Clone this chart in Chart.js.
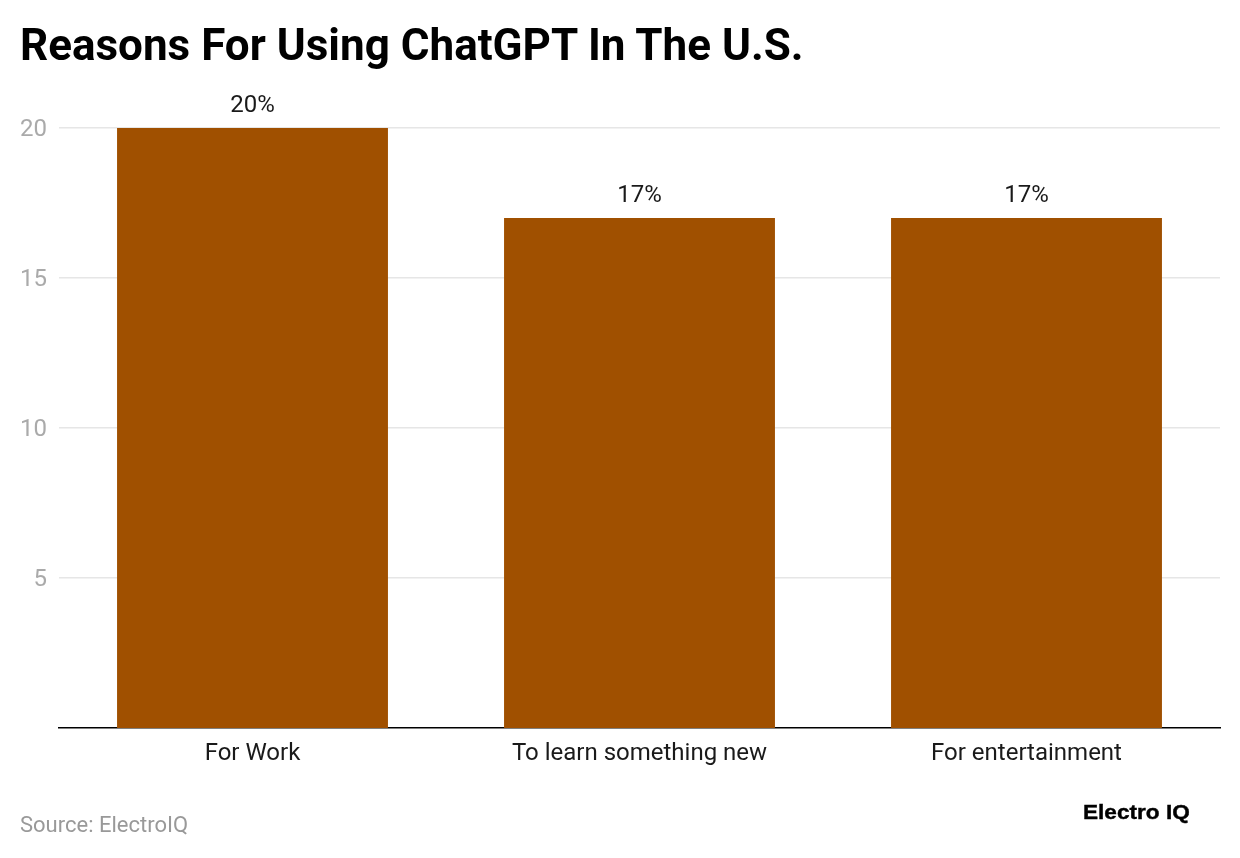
<!DOCTYPE html>
<html><head><meta charset="utf-8">
<style>
html,body{margin:0;padding:0;background:#fff;width:1240px;height:858px;overflow:hidden}
#wrap{position:absolute;left:0;top:0;width:1240px;height:858px}
#title{position:absolute;left:20px;top:19px;font:700 44px Roboto,sans-serif;color:#000;white-space:nowrap}
#source{position:absolute;left:20px;top:812px;font:400 22px Roboto,sans-serif;color:#999;white-space:nowrap}
#brand{position:absolute;left:1083px;top:801px;font:700 20px "Liberation Sans",sans-serif;color:#000;white-space:nowrap;transform:scaleX(1.13);transform-origin:left top;-webkit-text-stroke:.4px #000}
canvas{position:absolute;left:0;top:0}
</style></head><body><div id="wrap">
<canvas id="c" width="1240" height="858"></canvas>
<div id="title">Reasons For Using ChatGPT In The U.S.</div>
<div id="source">Source: ElectroIQ</div>
<div id="brand">Electro IQ</div>
</div>
<script src="https://cdn.jsdelivr.net/npm/chart.js@4"></script>
<script>
const categories=["For Work","To learn something new","For entertainment"];
const values=[20,17,17];
const yTicks=[5,10,15,20];
const labelPlugin={id:'lab',afterDatasetsDraw(ch){const c=ch.ctx;c.save();c.font='400 24px Roboto,sans-serif';c.fillStyle='#1a1a1a';c.textAlign='center';c.textBaseline='alphabetic';
ch.getDatasetMeta(0).data.forEach((b,i)=>c.fillText(values[i]+'%',b.x,b.y-16));c.restore();}};
new Chart(document.getElementById('c'),{type:'bar',plugins:[labelPlugin],
data:{labels:categories,datasets:[{data:values,backgroundColor:'#a05000',categoryPercentage:0.7,barPercentage:1}]},
options:{responsive:false,animation:false,devicePixelRatio:1,
layout:{padding:{left:0,right:20,top:128,bottom:0}},
plugins:{legend:{display:false},tooltip:{enabled:false}},
scales:{
x:{afterFit(a){a.height=130},grid:{display:false},border:{color:'#000',width:1.5},ticks:{color:'#1a1a1a',font:{family:'Roboto',size:24},padding:4,maxRotation:0}},
y:{min:0,max:20,afterBuildTicks(a){a.ticks=yTicks.map(v=>({value:v}))},afterFit(a){a.width=59},grid:{color:'#e6e6e6',lineWidth:1.5,drawTicks:false},border:{display:false},ticks:{color:'#aaa',font:{family:'Roboto',size:24},padding:12,labelOffset:2}}
}}});
</script></body></html>
